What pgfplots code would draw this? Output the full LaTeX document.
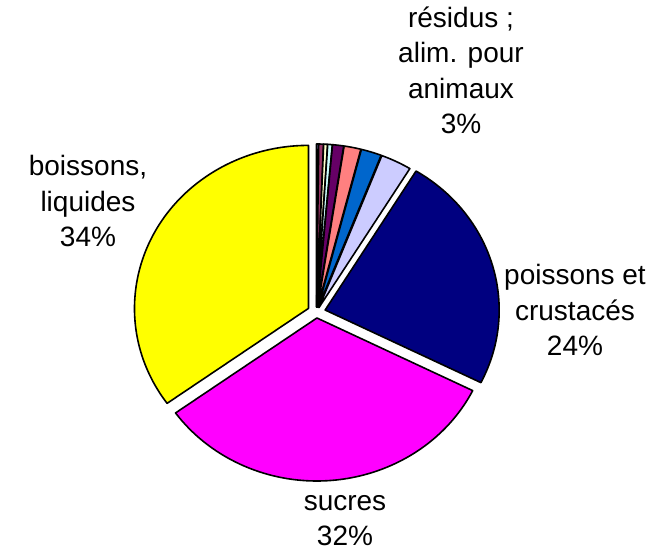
\documentclass[border=0pt]{standalone}
\usepackage{pgfplots}
\pgfplotsset{compat=1.18}
\usepackage{pgfplotstable}
\usepackage{fontspec}
\setmainfont{Liberation Sans}

\definecolor{c1}{HTML}{9999FF}
\definecolor{c2}{HTML}{993366}
\definecolor{c3}{HTML}{FFFFCC}
\definecolor{c4}{HTML}{CCFFFF}
\definecolor{c5}{HTML}{660066}
\definecolor{c6}{HTML}{FF8080}
\definecolor{c7}{HTML}{0066CC}
\definecolor{c8}{HTML}{CCCCFF}
\definecolor{c9}{HTML}{000080}
\definecolor{c10}{HTML}{FF00FF}
\definecolor{c11}{HTML}{FFFF00}

% share (%), explosion offset (pt), fill colour
\pgfplotstableread{
val   expl col
0.19  5.5  c1
0.44  5.5  c2
0.36  5.5  c3
0.42  5.5  c4
1.03  5.5  c5
1.56  5.5  c6
1.89  5.5  c7
2.86  5.5  c8
23.6  9    c9
32.75 5.5  c10
34.9  9    c11
}\piedata

\begin{document}
\begin{tikzpicture}
\begin{axis}[
    scale only axis,
    width=662pt, height=551pt,
    xmin=0, xmax=662, ymin=0, ymax=551,
    hide axis, clip=false,
]
\pgfplotsextra{
    \pgfplotstablegetrowsof{\piedata}
    \pgfmathtruncatemacro\nrows{\pgfplotsretval-1}
    \def\astart{90}
    \pgfplotsforeachungrouped \i in {0,...,\nrows}{
        \pgfplotstablegetelem{\i}{val}\of\piedata \let\v\pgfplotsretval
        \pgfplotstablegetelem{\i}{expl}\of\piedata \let\e\pgfplotsretval
        \pgfplotstablegetelem{\i}{col}\of\piedata \let\c\pgfplotsretval
        \pgfmathsetmacro\aend{\astart-3.6*\v}
        \pgfmathsetmacro\amid{(\astart+\aend)/2}
        \pgfmathsetmacro\cx{316.5+\e*cos(\amid)}
        \pgfmathsetmacro\cy{238.5+\e*sin(\amid)}
        \edef\temp{\noexpand\filldraw[fill=\c, draw=black, line width=1.6pt, line join=round]
            (axis cs:\cx,\cy) -- ++(\astart:174pt and 163pt)
            arc[start angle=\astart, end angle=\aend, x radius=174pt, y radius=163pt] -- cycle;}
        \temp
        \global\let\astart\aend
    }
}
% anchor=base sits on the last line's baseline
\begin{scope}[every node/.style={align=center, anchor=base, inner sep=0pt,
    font=\fontsize{28}{35.5}\selectfont}]
\node at (axis cs:461,417) {résidus ;\\alim. pour\\animaux\\3\%};
\node at (axis cs:88,304) {boissons,\\liquides\\34\%};
\node at (axis cs:575,195) {poissons et\\crustacés\\24\%};
\node at (axis cs:345,5) {sucres\\32\%};
\end{scope}
\end{axis}
\pgfresetboundingbox
\path[use as bounding box] (current axis.south west) rectangle (current axis.north east);
\end{tikzpicture}
\end{document}
